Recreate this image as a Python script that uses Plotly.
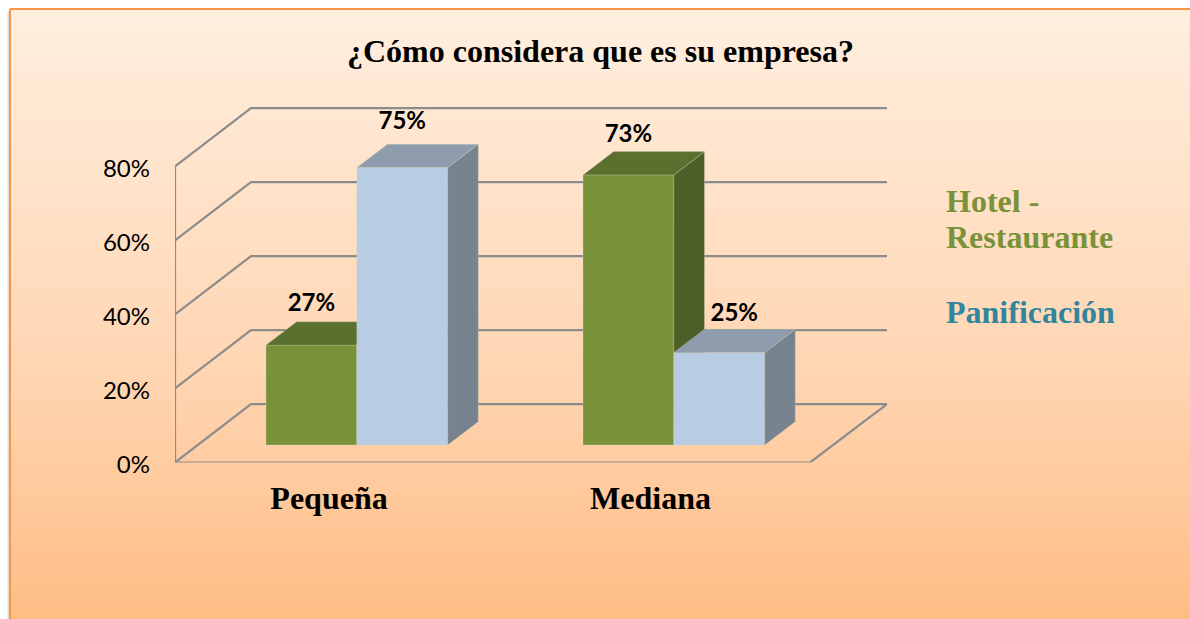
import plotly.graph_objects as go

# ---- data ----
title_text = "¿Cómo considera que es su empresa?"
categories = ["Pequeña", "Mediana"]
hotel_lines = ["Hotel -", "Restaurante"]
panif_name = "Panificación"
hotel_values = [27, 73]
panif_values = [75, 25]
y_ticks = [0, 20, 40, 60, 80]
y_tick_labels = ["0%", "20%", "40%", "60%", "80%"]

# ---- pseudo-3D geometry, in axis units ----
W, H = 1190, 619
PX_X = 317.0      # pixels per category
PX_Y = 3.7        # pixels per percent
WALL_DX, WALL_DY = 76 / PX_X, 58.3 / PX_Y  # depth of floor / walls
BAR_DX, BAR_DY = 30.6 / PX_X, 23.3 / PX_Y  # depth of the bars
BAR_BASE = 17.5 / PX_Y                     # bars stand forward on the floor
BAR_W = 90.85 / PX_X
HOTEL_OFF = -67.5 / PX_X
PANIF_OFF = HOTEL_OFF + BAR_W
PLOT_L, PLOT_R, PLOT_T, PLOT_B = 175, 887, 100, 462.5
X0 = -0.5
X1 = 1.5 + 1 / PX_X
Y_TOP = (PLOT_B - PLOT_T) / PX_Y
X_TOP = X0 + (PLOT_R - PLOT_L) / PX_X

GRID = "#8C8C8C"
EDGE = "rgba(215,215,185,0.30)"
SERIF = "Liberation Serif"
SANS = "Lato"

fig = go.Figure()

# soft shadow left of the panel, then the panel
fig.add_trace(go.Scatter(
    x=[8.5, 8.5], y=[12, 700], xaxis="x", yaxis="y", mode="lines",
    line=dict(color="#DEDEDE", width=2), hoverinfo="skip", showlegend=False))
fig.add_trace(go.Scatter(
    x=[10, 1300, 1300, 10, 10], y=[9, 9, 700, 700, 9], xaxis="x", yaxis="y",
    mode="lines", line=dict(color="#F79646", width=2), fill="toself",
    fillgradient=dict(type="vertical", start=9, stop=619,
                      colorscale=[[0, "#FFEFDF"], [0.6, "#FFD5B2"], [1, "#FFBD85"]]),
    hoverinfo="skip", showlegend=False))

# walls and floor
gx, gy = [], []
for t in y_ticks:
    gx += [X0, X0 + WALL_DX, X_TOP, None]
    gy += [t, t + WALL_DY, t + WALL_DY, None]
gx += [X0, X0, None, X0, X1, X_TOP]
gy += [y_ticks[0], y_ticks[-1], None, 0, 0, WALL_DY]
fig.add_trace(go.Scatter(x=gx, y=gy, xaxis="x2", yaxis="y2", mode="lines",
                         line=dict(color=GRID, width=2.2), cliponaxis=False,
                         hoverinfo="skip", showlegend=False))


def add_bars(values, offset, front, top, side, xa, ya):
    fig.add_trace(go.Bar(x=[0, 1], y=values, base=[BAR_BASE] * len(values),
                         offset=offset, width=BAR_W, xaxis=xa, yaxis=ya,
                         marker=dict(color=front, line=dict(width=1, color=EDGE)),
                         hoverinfo="skip", showlegend=False))
    for i, v in enumerate(values):
        l = i + offset
        r = l + BAR_W
        b = BAR_BASE
        t = BAR_BASE + v
        fig.add_trace(go.Scatter(
            x=[r, r + BAR_DX, r + BAR_DX, r, r], y=[b, b + BAR_DY, t + BAR_DY, t, b],
            xaxis=xa, yaxis=ya, mode="lines", line=dict(width=1, color=EDGE), fill="toself",
            fillcolor=side, cliponaxis=False, hoverinfo="skip", showlegend=False))
        fig.add_trace(go.Scatter(
            x=[l, r, r + BAR_DX, l + BAR_DX, l], y=[t, t, t + BAR_DY, t + BAR_DY, t],
            xaxis=xa, yaxis=ya, mode="lines", line=dict(width=1, color=EDGE), fill="toself",
            fillcolor=top, cliponaxis=False, hoverinfo="skip", showlegend=False))


add_bars(hotel_values, HOTEL_OFF, "#79923A", "#5B702E", "#4D5E26", "x3", "y3")
add_bars(panif_values, PANIF_OFF, "#B8CCE4", "#8E9CAE", "#77838F", "x4", "y4")

# value labels (pixel lifts above each bar top)
lift_hotel = [40, 39]
lift_panif = [45, 38]
shift_hotel = [0, 0]
shift_panif = [0, 15]
fig.add_trace(go.Scatter(
    x=[i + HOTEL_OFF + BAR_W / 2 + s / PX_X for i, s in enumerate(shift_hotel)] +
      [i + PANIF_OFF + BAR_W / 2 + s / PX_X for i, s in enumerate(shift_panif)],
    y=[BAR_BASE + v + l / PX_Y for v, l in zip(hotel_values, lift_hotel)] +
      [BAR_BASE + v + l / PX_Y for v, l in zip(panif_values, lift_panif)],
    text=[f"{v}%" for v in hotel_values + panif_values],
    xaxis="x4", yaxis="y4", mode="text", cliponaxis=False,
    textposition="middle center",
    textfont=dict(family=SANS, size=24, color="#000000", weight="bold"),
    hoverinfo="skip", showlegend=False))

hidden = dict(visible=False, showgrid=False, zeroline=False)
note = dict(xref="paper", yref="paper", showarrow=False, yanchor="middle")
fig.update_layout(
    width=W, height=H, margin=dict(l=0, r=0, t=0, b=0, autoexpand=False), autosize=False,
    paper_bgcolor="#FFFFFF", plot_bgcolor="rgba(0,0,0,0)", barmode="overlay",
    showlegend=False,
    xaxis=dict(domain=[0, 1], range=[0, W], **hidden),
    yaxis=dict(domain=[0, 1], range=[H, 0], **hidden),
    xaxis2=dict(domain=[PLOT_L / W, PLOT_R / W], range=[X0, X_TOP], anchor="y2",
                tickmode="array", tickvals=[-4.5 / PX_X, 1], ticktext=categories,
                showgrid=False, zeroline=False, showline=False, ticks="",
                ticklabelstandoff=13, automargin=False,
                tickfont=dict(family=SERIF, size=32, color="#000000", weight="bold")),
    yaxis2=dict(domain=[(H - PLOT_B) / H, (H - PLOT_T) / H], range=[0, Y_TOP], anchor="x2",
                tickmode="array", tickvals=y_ticks, ticktext=y_tick_labels,
                showgrid=False, zeroline=False, showline=False, ticks="",
                ticklabelstandoff=24, ticklabelshift=2, automargin=False,
                tickfont=dict(family=SANS, size=24, color="#000000")),
    xaxis3=dict(overlaying="x2", range=[X0, X_TOP], anchor="y3", **hidden),
    yaxis3=dict(overlaying="y2", range=[0, Y_TOP], anchor="x3", **hidden),
    xaxis4=dict(overlaying="x2", range=[X0, X_TOP], anchor="y4", **hidden),
    yaxis4=dict(overlaying="y2", range=[0, Y_TOP], anchor="x4", **hidden),
    annotations=[
        dict(text=title_text, x=600.5 / W, y=1 - 51 / H, xanchor="center",
             font=dict(family=SERIF, size=32, color="#000000", weight="bold"), **note),
        dict(text=hotel_lines[0], x=944 / W, y=1 - 201 / H, xanchor="left",
             font=dict(family=SERIF, size=32, color="#79923A", weight="bold"), **note),
        dict(text=hotel_lines[1], x=944 / W, y=1 - 237 / H, xanchor="left",
             font=dict(family=SERIF, size=32, color="#79923A", weight="bold"), **note),
        dict(text=panif_name, x=944 / W, y=1 - 312 / H, xanchor="left",
             font=dict(family=SERIF, size=32, color="#31859C", weight="bold"), **note),
    ],
)

fig.write_html("out.html", config=dict(displayModeBar=False),
               post_script="document.body.style.margin='0';")
